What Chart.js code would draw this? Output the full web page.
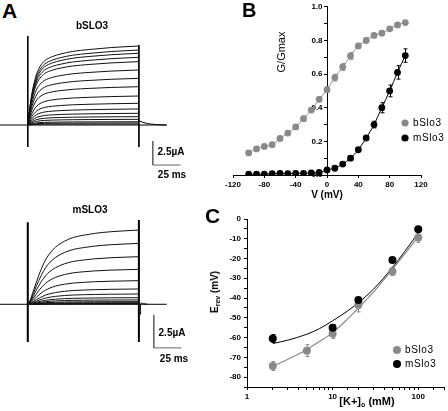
<!DOCTYPE html>
<html>
<head>
<meta charset="utf-8">
<script src="https://cdn.jsdelivr.net/npm/chart.js@4.4.1/dist/chart.umd.min.js"></script>
<style>
  body { margin: 0; background: #fff; }
  #fig { position: relative; width: 448px; height: 411px; overflow: hidden; background: #fff;
         font-family: "Liberation Sans", Arial, sans-serif; color: #000; }
  canvas { position: absolute; }
  .t { position: absolute; white-space: nowrap; line-height: 1; transform: translate(-50%, -50%); }
  .b { font-weight: bold; }
  .panel { position: absolute; font-weight: bold; line-height: 1; }
  sub { font-size: 7px; vertical-align: -2px; line-height: 0; }
</style>
</head>
<body>
<div id="fig">
  <canvas id="cA1" width="200" height="144" style="left:0px;top:29px"></canvas>
  <canvas id="cA2" width="200" height="145" style="left:0px;top:212px"></canvas>
  <canvas id="cB" width="248" height="210" style="left:200px;top:0px"></canvas>
  <canvas id="cC" width="248" height="211" style="left:200px;top:200px"></canvas>

  <div class="panel" style="left:2px;top:0px;font-size:21px">A</div>
  <div class="t b" style="left:92px;top:26px;font-size:10px">bSLO3</div>
  <div class="t b" style="left:171px;top:152px;font-size:10px">2.5µA</div>
  <div class="t b" style="left:172px;top:175px;font-size:10px">25 ms</div>
  <div class="t b" style="left:90px;top:210px;font-size:10px">mSLO3</div>
  <div class="t b" style="left:172px;top:333px;font-size:10px">2.5µA</div>
  <div class="t b" style="left:174px;top:359px;font-size:10px">25 ms</div>

  <div class="panel" style="left:242px;top:0px;font-size:20px">B</div>
  <div class="t" style="left:281px;top:52px;font-size:11px;transform:translate(-50%,-50%) rotate(-90deg)">G/Gmax</div>
  <div class="t b" style="left:327px;top:195px;font-size:10px">V (mV)</div>

  <div class="panel" style="left:205px;top:205px;font-size:21px">C</div>
  <div class="t b" style="left:215px;top:292px;font-size:10px;transform:translate(-50%,-50%) rotate(-90deg)">E<sub>rev</sub> (mV)</div>
  <div class="t b" style="left:367px;top:401px;font-size:11px">[K+]<sub>o</sub> (mM)</div>
</div>

<script>
// ---- panel A: current traces (ms, µA) ----
const bTimes = [0, 1, 2, 4, 6, 8, 11, 15, 22, 30, 40, 55, 75, 100];
const bShape = [0, 0.12, 0.24, 0.42, 0.55, 0.65, 0.74, 0.81, 0.865, 0.9, 0.93, 0.955, 0.98, 1.0];
const bSteady = [8.23, 7.81, 7.47, 7.05, 6.6, 5.73, 4.86, 3.99, 3.02, 2.26, 1.67, 1.22, 0.87, 0.59, 0.34, 0.21, 0.1];
const bTailT = [100, 103, 108, 115, 125];
const bTailI = [0.45, 0.3, 0.15, 0.05, 0];
const bOnI = [9.27, -2.29];
const bOffI = [8.33, -2.29];
const bBarT = [112.5, 112.5, 137.5];
const bBarI = [-1.67, -4.17, -4.17];

const mTimes = [0, 2, 5, 8, 12, 16, 20, 25, 33, 41, 50, 60, 75, 100];
const mShape = [0, 0.05, 0.18, 0.31, 0.47, 0.6, 0.69, 0.77, 0.85, 0.9, 0.93, 0.955, 0.978, 1.0];
const mSteady = [5.63, 4.62, 3.61, 2.65, 1.79, 1.16, 0.78, 0.5, 0.33, 0.2, 0.12, 0.06, 0.03];
const mTailT = [101.5, 101.5, 102.3, 104, 108];
const mTailI = [-0.8, 0, 0.1, 0.05, 0];
const mOnI = [6.23, -2.86];
const mOffI = [6.39, -2.86];
const mBarT = [113.4, 113.4, 138.4];
const mBarI = [-0.81, -3.31, -3.31];

// ---- panel B: G/Gmax vs V ----
const voltages = [-100, -90, -80, -70, -60, -50, -40, -30, -20, -10, 0, 10, 20, 30, 40, 50, 60, 70, 80, 90, 100];
const gBslo3 = [0.131, 0.155, 0.170, 0.180, 0.217, 0.249, 0.286, 0.335, 0.386, 0.450, 0.507, 0.579, 0.642, 0.708, 0.767, 0.800, 0.830, 0.843, 0.869, 0.892, 0.906];
const gBslo3Err = [0.01, 0.01, 0.01, 0.01, 0.01, 0.01, 0.012, 0.015, 0.015, 0.015, 0.015, 0.02, 0.02, 0.02, 0.015, 0.015, 0.01, 0.01, 0.01, 0.01, 0.01];
const gMslo3 = [0.005, 0.005, 0.005, 0.008, 0.010, 0.008, 0.010, 0.010, 0.012, 0.015, 0.030, 0.040, 0.065, 0.100, 0.150, 0.220, 0.300, 0.400, 0.500, 0.610, 0.710];
const gMslo3Err = [0, 0, 0, 0, 0, 0, 0, 0, 0, 0, 0.005, 0.005, 0.008, 0.01, 0.01, 0.015, 0.02, 0.03, 0.035, 0.04, 0.04];

// ---- panel C: Erev vs [K+]o ----
const concB = [2, 5, 10, 20, 50, 100];
const erevB = [-74.4, -66.6, -58, -43.5, -26.5, -9.3];
const erevBErr = [2.2, 3, 2.5, 3.5, 2, 2.5];
const concM = [2, 10, 20, 50, 100];
const erevM = [-60.5, -55, -41, -20.8, -5.2];
const erevMErr = [2, 1.5, 1, 1, 1];
const fitConc = [2, 3, 5, 7, 10, 15, 20, 30, 50, 70, 100];
const fitB = [-74.5, -71, -66, -62, -57.5, -50.5, -45, -37, -25.5, -17.5, -9];
const fitM = [-63, -61.3, -58.3, -55.5, -51.5, -46.5, -42.3, -35.5, -24.5, -16.3, -7];

const GRAY = '#8a8a8a';
const FONT = '"Liberation Sans", Arial, sans-serif';
Chart.defaults.font.family = FONT;
Chart.defaults.color = '#000';

function pts(xs, ys) { return xs.map((x, i) => ({ x: x, y: ys[i] })); }

function seg(data, color, width, smooth) {
  return {
    data: data, showLine: true, borderColor: color, borderWidth: width,
    pointRadius: 0, fill: false,
    cubicInterpolationMode: smooth ? 'monotone' : 'default', tension: 0
  };
}

function traceChart(id, times, shape, steady, onI, offI, tailT, tailI, barT, barI, lw, yMin, yMax) {
  const ds = [];
  steady.forEach(a => ds.push(seg(times.map((t, i) => ({ x: t, y: a * shape[i] })), '#111', 1, true)));
  ds.push(seg([{ x: -25, y: 0 }, { x: 125, y: 0 }], '#000', 1, false));
  ds.push(seg(pts(tailT, tailI), '#000', 1, true));
  ds.push(seg(pts([0, 0], onI), '#000', lw, false));
  ds.push(seg(pts([100, 100], offI), '#000', lw, false));
  ds.push(seg(pts(barT, barI), '#666', 1, false));
  new Chart(document.getElementById(id), {
    type: 'scatter',
    data: { datasets: ds },
    options: {
      responsive: false, animation: false, devicePixelRatio: 1,
      layout: { padding: 0 },
      plugins: { legend: { display: false }, tooltip: { enabled: false } },
      scales: {
        x: { type: 'linear', min: -25, max: 155, display: false },
        y: { type: 'linear', min: yMin, max: yMax, display: false }
      }
    }
  });
}

traceChart('cA1', bTimes, bShape, bSteady, bOnI, bOffI, bTailT, bTailI, bBarT, bBarI, 1, -5, 10);
traceChart('cA2', mTimes, mShape, mSteady, mOnI, mOffI, mTailT, mTailI, mBarT, mBarI, 2, -4, 7);

// error bars and legend drawn through the chart's own scales
function errorBars(sets) {
  return {
    id: 'errorBars',
    beforeDatasetsDraw(chart) {
      const ctx = chart.ctx, xs = chart.scales.x, ys = chart.scales.y;
      sets.forEach(s => {
        ctx.save();
        ctx.strokeStyle = s.color;
        ctx.lineWidth = 1;
        s.x.forEach((xv, i) => {
          const e = s.err[i];
          if (!e) return;
          const px = Math.round(xs.getPixelForValue(xv)) + 0.5;
          const top = ys.getPixelForValue(s.y[i] + e);
          const bot = ys.getPixelForValue(s.y[i] - e);
          ctx.beginPath();
          ctx.moveTo(px, top); ctx.lineTo(px, bot);
          ctx.moveTo(px - 2, top); ctx.lineTo(px + 2, top);
          ctx.moveTo(px - 2, bot); ctx.lineTo(px + 2, bot);
          ctx.stroke();
        });
        ctx.restore();
      });
    }
  };
}

function legendBox(items, x, y, dy, r) {
  return {
    id: 'legendBox',
    afterDraw(chart) {
      const ctx = chart.ctx;
      ctx.save();
      ctx.font = '10px ' + FONT;
      ctx.textBaseline = 'middle';
      if ('letterSpacing' in ctx) ctx.letterSpacing = '0.6px';
      items.forEach((it, i) => {
        const cy = y + i * dy;
        ctx.fillStyle = it.color;
        ctx.beginPath(); ctx.arc(x, cy, r, 0, Math.PI * 2); ctx.fill();
        ctx.fillStyle = '#000';
        ctx.fillText(it.label, x + 8, cy + 0.5);
      });
      ctx.restore();
    }
  };
}

const tickFont = { size: 8, weight: 'bold' };
const axisGrid = { display: true, drawOnChartArea: false, drawTicks: true, tickLength: 3, color: '#000', tickColor: '#000' };
const axisBorder = { display: true, color: '#000', width: 1 };

new Chart(document.getElementById('cB'), {
  type: 'scatter',
  data: {
    datasets: [
      { data: pts(voltages, gMslo3), showLine: true, borderColor: '#000', borderWidth: 1, cubicInterpolationMode: 'monotone',
        pointRadius: 3.4, pointBackgroundColor: '#000', pointBorderColor: '#000', pointBorderWidth: 0 },
      { data: pts(voltages, gBslo3), showLine: true, borderColor: GRAY, borderWidth: 1, cubicInterpolationMode: 'monotone',
        pointRadius: 3.4, pointBackgroundColor: GRAY, pointBorderColor: GRAY, pointBorderWidth: 0 }
    ]
  },
  options: {
    responsive: false, animation: false, devicePixelRatio: 1,
    layout: { padding: { left: 33, right: 27, top: 4, bottom: 0 } },
    plugins: { legend: { display: false }, tooltip: { enabled: false } },
    scales: {
      x: {
        type: 'linear', min: -120, max: 120, position: 'bottom',
        ticks: { stepSize: 40, autoSkip: false, maxRotation: 0, padding: 2, font: tickFont, color: '#000' },
        grid: axisGrid, border: axisBorder,
        afterFit(s) { s.height = 35; }
      },
      y: {
        type: 'linear', min: 0, max: 1, position: { x: 0 },
        ticks: { stepSize: 0.1, autoSkip: false, padding: 2, font: tickFont, color: '#000',
                 callback: v => (Math.round(v * 10) % 2 === 0 ? v.toFixed(1) + '  ' : '') },
        grid: axisGrid, border: axisBorder
      }
    }
  },
  plugins: [
    errorBars([
      { x: voltages, y: gBslo3, err: gBslo3Err, color: GRAY },
      { x: voltages, y: gMslo3, err: gMslo3Err, color: '#000' }
    ]),
    legendBox([{ label: 'bSlo3', color: GRAY }, { label: 'mSlo3', color: '#000' }], 205, 123, 15, 3.6)
  ]
});

new Chart(document.getElementById('cC'), {
  type: 'scatter',
  data: {
    datasets: [
      { data: pts(concM, erevM), pointRadius: 4, pointBackgroundColor: '#000', pointBorderWidth: 0, showLine: false },
      { data: pts(concB, erevB), pointRadius: 4, pointBackgroundColor: GRAY, pointBorderWidth: 0, showLine: false },
      { data: pts(fitConc, fitM), showLine: true, borderColor: '#000', borderWidth: 1, pointRadius: 0, cubicInterpolationMode: 'monotone' },
      { data: pts(fitConc, fitB), showLine: true, borderColor: GRAY, borderWidth: 1.2, pointRadius: 0, cubicInterpolationMode: 'monotone' }
    ]
  },
  options: {
    responsive: false, animation: false, devicePixelRatio: 1,
    layout: { padding: { left: 0, right: 1, top: 19, bottom: 0 } },
    plugins: { legend: { display: false }, tooltip: { enabled: false } },
    scales: {
      x: {
        type: 'logarithmic', min: 1, max: 200, position: 'bottom',
        ticks: { autoSkip: false, maxRotation: 0, padding: 2, font: tickFont, color: '#000',
                 callback: v => {
                   const l = Math.log10(v);
                   return Math.abs(l - Math.round(l)) < 1e-6 ? String(Math.round(v)) : '';
                 } },
        grid: axisGrid, border: axisBorder,
        afterFit(s) { s.height = 24; }
      },
      y: {
        type: 'linear', min: -85, max: 0, position: 'left',
        ticks: { stepSize: 5, autoSkip: false, padding: 3, font: tickFont, color: '#000',
                 callback: v => (v % 10 === 0 ? String(v) : '') },
        grid: axisGrid, border: axisBorder,
        afterFit(s) { s.width = 47; }
      }
    }
  },
  plugins: [
    errorBars([
      { x: concB, y: erevB, err: erevBErr, color: GRAY },
      { x: concM, y: erevM, err: erevMErr, color: '#000' }
    ]),
    legendBox([{ label: 'bSlo3', color: GRAY }, { label: 'mSlo3', color: '#000' }], 197, 150, 14, 4)
  ]
});
</script>
</body>
</html>
